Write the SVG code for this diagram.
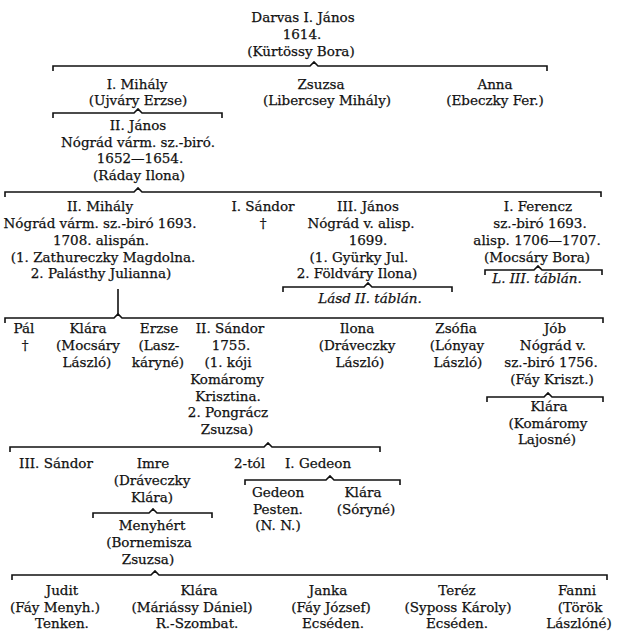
<svg xmlns="http://www.w3.org/2000/svg" width="634" height="638" viewBox="0 0 634 638">
<style>
text{font-family:"DejaVu Serif","Liberation Serif",serif;font-size:13.5px;fill:#111111;text-anchor:middle;stroke:#111111;stroke-width:0.25}
.it{font-style:italic}
.st{text-anchor:start}
.br{fill:none;stroke:#111111;stroke-width:1.6;stroke-linejoin:miter}
</style>
<rect width="634" height="638" fill="#ffffff"/>
<g id="connectors">
<path class="br" d="M53,71 V66 H310 L314,62 L318,66 H547 V71"/>
<path class="br" d="M53,118 V113 H134 L138,109 L142,113 H222 V118"/>
<path class="br" d="M5,197 V192 H134 L138,188 L142,192 H601 V197"/>
<path class="br" d="M485,275 V270 H534 L538,266 L542,270 H602 V275"/>
<path class="br" d="M283,292 V287 H364 L368,283 L372,287 H452 V292"/>
<path class="br" d="M118,289 V314"/>
<path class="br" d="M5,323 V318 H114 L118,314 L122,318 H603 V323"/>
<path class="br" d="M487,402 V397 H544 L548,393 L552,397 H603 V402"/>
<path class="br" d="M10,452 V447 H264 L268,443 L272,447 H380 V452"/>
<path class="br" d="M245,485 V480 H326 L330,476 L334,480 H400 V485"/>
<path class="br" d="M93,518 V513 H149 L153,509 L157,513 H212 V518"/>
<path class="br" d="M12,580 V575 H151 L155,571 L159,575 H607 V580"/>
</g>
<g id="darvas"><text x="303" y="22">Darvas I. János</text><text x="302" y="39">1614.</text><text x="301" y="56">(Kürtössy Bora)</text></g>
<g id="mihaly1"><text x="137" y="89">I. Mihály</text><text x="138" y="105">(Ujváry Erzse)</text></g>
<g id="zsuzsa"><text x="321" y="89">Zsuzsa</text><text x="327" y="105">(Libercsey Mihály)</text></g>
<g id="anna"><text x="495" y="89">Anna</text><text x="495" y="105">(Ebeczky Fer.)</text></g>
<g id="janos2"><text x="138" y="130">II. János</text><text x="138" y="146.5">Nógrád várm. sz.-biró.</text><text x="140" y="163">1652—1654.</text><text x="139" y="180">(Ráday Ilona)</text></g>
<g id="mihaly2"><text x="100" y="210.5">II. Mihály</text><text x="100" y="227.5">Nógrád várm. sz.-biró 1693.</text><text x="101" y="244.5">1708. alispán.</text><text x="103" y="261.5">(1. Zathureczky Magdolna.</text><text x="101" y="278">2. Palásthy Julianna)</text></g>
<g id="sandor1"><text x="263" y="210.5">I. Sándor</text><text x="263" y="227.5">†</text></g>
<g id="janos3"><text x="368" y="210.5">III. János</text><text x="361" y="227.5">Nógrád v. alisp.</text><text x="368" y="244.5">1699.</text><text x="359" y="261.5">(1. Gyürky Jul.</text><text x="357" y="278">2. Földváry Ilona)</text></g>
<g id="janos3-ref"><text class="it" x="370" y="303">Lásd II. táblán.</text></g>
<g id="ferencz"><text x="538" y="210.5">I. Ferencz</text><text x="540" y="227.5">sz.-biró 1693.</text><text x="537" y="244.5">alisp. 1706—1707.</text><text x="537" y="261.5">(Mocsáry Bora)</text></g>
<g id="ferencz-ref"><text class="it" x="537" y="283">L. III. táblán.</text></g>
<g id="pal"><text x="24" y="333">Pál</text><text x="25" y="350">†</text></g>
<g id="klara1"><text x="88" y="333">Klára</text><text x="88" y="350">(Mocsáry</text><text x="87" y="367">László)</text></g>
<g id="erzse"><text x="159" y="333">Erzse</text><text x="159" y="350">(Lasz-</text><text x="158" y="367">káryné)</text></g>
<g id="sandor2"><text x="230" y="333">II. Sándor</text><text x="231" y="350">1755.</text><text x="228" y="367">(1. kóji</text><text x="227" y="384">Komáromy</text><text x="228" y="400.5">Krisztina.</text><text x="228" y="417">2. Pongrácz</text><text x="227" y="434">Zsuzsa)</text></g>
<g id="ilona"><text x="357" y="333">Ilona</text><text x="357" y="350">(Dráveczky</text><text x="360" y="367">László)</text></g>
<g id="zsofia"><text x="456" y="333">Zsófia</text><text x="457" y="350">(Lónyay</text><text x="458" y="367">László)</text></g>
<g id="job"><text x="555" y="333">Jób</text><text x="553" y="350">Nógrád v.</text><text x="551" y="367">sz.-biró 1756.</text><text x="552" y="384">(Fáy Kriszt.)</text></g>
<g id="klara2"><text x="549" y="411">Klára</text><text x="548" y="428">(Komáromy</text><text x="547" y="444">Lajosné)</text></g>
<g id="sandor3"><text x="56" y="468">III. Sándor</text></g>
<g id="imre"><text x="153" y="468">Imre</text><text x="152" y="485">(Dráveczky</text><text x="152" y="502">Klára)</text></g>
<g id="gedeon1"><text class="st" x="234" y="468">2-tól</text><text class="st" x="285" y="468">I. Gedeon</text></g>
<g id="menyhert"><text x="152" y="530">Menyhért</text><text x="149" y="547">(Bornemisza</text><text x="148" y="564">Zsuzsa)</text></g>
<g id="gedeon2"><text x="278" y="497">Gedeon</text><text x="278" y="513.5">Pesten.</text><text x="278" y="530">(N. N.)</text></g>
<g id="klara3"><text x="363" y="497">Klára</text><text x="366" y="513.5">(Sóryné)</text></g>
<g id="judit"><text x="62" y="595">Judit</text><text x="55" y="611.5">(Fáy Menyh.)</text><text x="62" y="628">Tenken.</text></g>
<g id="klara4"><text x="199" y="595">Klára</text><text x="192" y="611.5">(Máriássy Dániel)</text><text x="197" y="628">R.-Szombat.</text></g>
<g id="janka"><text x="328" y="595">Janka</text><text x="331" y="611.5">(Fáy József)</text><text x="333" y="628">Ecséden.</text></g>
<g id="terez"><text x="457" y="595">Teréz</text><text x="458" y="611.5">(Syposs Károly)</text><text x="457" y="628">Ecséden.</text></g>
<g id="fanni"><text x="577" y="595">Fanni</text><text x="580" y="611.5">(Török</text><text x="579" y="628">Lászlóné)</text></g>
</svg>
